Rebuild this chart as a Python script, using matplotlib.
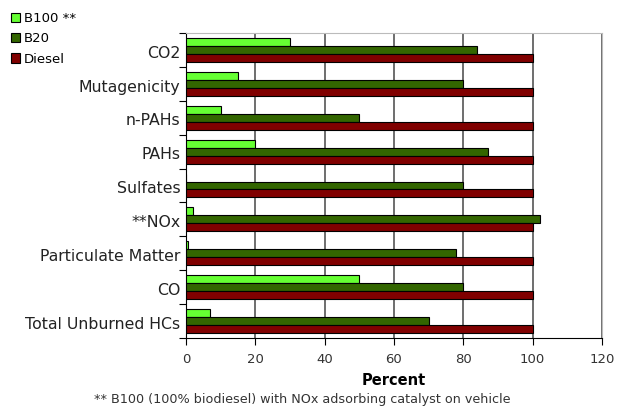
import matplotlib
matplotlib.use("Agg")
import matplotlib.pyplot as plt
import numpy as np
from matplotlib.patches import Patch

categories = ["Total Unburned HCs", "CO", "Particulate Matter", "**NOx", "Sulfates",
              "PAHs", "n-PAHs", "Mutagenicity", "CO2"]
b100 = [7, 50, 0.5, 2, 0, 20, 10, 15, 30]
b20 = [70, 80, 78, 102, 80, 87, 50, 80, 84]
diesel = [100, 100, 100, 100, 100, 100, 100, 100, 100]
series_names = ["B100 **", "B20", "Diesel"]
colors = ["#66FF33", "#336600", "#800000"]
xticks = [0, 20, 40, 60, 80, 100, 120]

fig = plt.figure(figsize=(6.17, 4.08), dpi=100)
ax = fig.add_axes([186/617, 1-338/408, (602-186)/617, (338-33)/408])

y = np.arange(len(categories))
h = 0.235
for vals, off, c, name in [(b100, h, colors[0], series_names[0]),
                           (b20, 0, colors[1], series_names[1]),
                           (diesel, -h, colors[2], series_names[2])]:
    ax.barh(y + off, vals, height=h, color=c, edgecolor="black", linewidth=0.8, zorder=3)

ax.set_xlim(0, 120)
ax.set_ylim(-0.5, len(categories) - 0.5)
ax.set_xticks(xticks)
ax.set_xticklabels([str(t) for t in xticks], fontsize=9.5, color="#333333")
ax.set_yticks(y - 0.05)
ax.set_yticklabels(categories, fontsize=11.3, color="#222222")
ax.tick_params(axis="y", which="major", length=0, pad=4)
ax.set_yticks(np.arange(-0.5, len(categories), 1), minor=True)
ax.tick_params(axis="y", which="minor", length=5, width=0.8, direction="out")
ax.tick_params(axis="x", length=5, width=0.8, direction="out", pad=6)
ax.xaxis.grid(True, color="#555555", linewidth=1.2, zorder=0)
ax.set_axisbelow(True)
ax.spines["top"].set_color("#bbbbbb")
ax.spines["right"].set_color("#bbbbbb")
ax.spines["left"].set_color("black")
ax.spines["bottom"].set_color("black")
ax.set_xlabel("Percent", fontsize=10.5, fontweight="bold", labelpad=5)

handles = [Patch(facecolor=c, edgecolor="black", linewidth=0.8) for c in colors]
fig.legend(handles, series_names, loc="upper left", bbox_to_anchor=(0.005, 0.99),
           frameon=False, fontsize=9.5, handlelength=0.7, handleheight=0.7,
           handletextpad=0.3, labelspacing=0.55, borderaxespad=0.2)

fig.text(0.49, 0.005, "** B100 (100% biodiesel) with NOx adsorbing catalyst on vehicle",
         ha="center", va="bottom", fontsize=9.2, color="#333333")

fig.savefig("out.png", dpi=100)
